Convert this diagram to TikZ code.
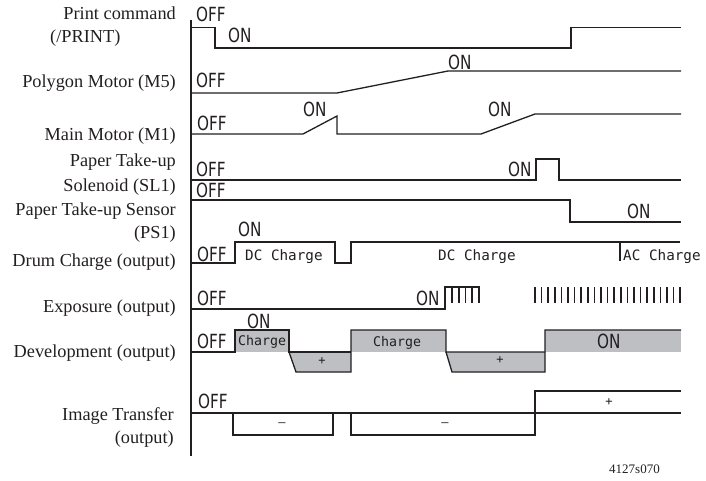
\documentclass[tikz,border=0pt]{standalone}
\usepackage{fontspec}
\setmainfont{Liberation Serif}
\newfontfamily\sigfont[FakeStretch=0.78]{DejaVu Sans}
\newfontfamily\monofont{DejaVu Sans Mono}
\definecolor{ink}{RGB}{35,31,32}
\definecolor{devfill}{RGB}{190,191,194}

\begin{document}
\begin{tikzpicture}[x=1pt,y=-1pt,
  sig/.style={line width=1.3pt,draw=ink,line join=miter},
  lbl/.style={anchor=base east,inner sep=0pt,font=\fontsize{18.3}{20}\selectfont,text=ink},
  st/.style={anchor=base west,inner sep=0pt,font=\sigfont\fontsize{19.5}{20}\selectfont,text=ink},
  mono/.style={anchor=base west,inner sep=0pt,font=\monofont\fontsize{14.3}{16}\selectfont,text=ink},
  pm/.style={inner sep=0pt,font=\monofont\fontsize{12}{14}\selectfont,text=ink}]
  \useasboundingbox (0,0) rectangle (706,481);

  \node[lbl] (lprint) at (176,20) {Print command};
  \node[lbl,anchor=base west] (lprint2) at (50,43) {(/PRINT)};
  \node[lbl] (lpoly) at (176,88) {Polygon Motor (M5)};
  \node[lbl] (lmain) at (176,141) {Main Motor (M1)};
  \node[lbl] (lsol) at (176,167) {Paper Take-up};
  \node[lbl] (lsol2) at (176,191) {Solenoid (SL1)};
  \node[lbl] (lsens) at (176,215) {Paper Take-up Sensor};
  \node[lbl] (lsens2) at (176,238) {(PS1)};
  \node[lbl] (ldrum) at (176,266) {Drum Charge (output)};
  \node[lbl] (lexp) at (176,312) {Exposure (output)};
  \node[lbl] (ldev) at (176,357) {Development (output)};
  \node[lbl] (ltr) at (174,420) {Image Transfer};
  \node[lbl] (ltr2) at (174,443) {(output)};
  \node[lbl,anchor=base west,font=\fontsize{13}{14}\selectfont] (fig) at (609,473) {4127s070};

  \draw[line width=1.6pt,ink] (191,20) -- (191,456);

  \draw[sig] (191,27.5) -- (215,27.5) -- (215,48) -- (571,48) -- (571,27.5) -- (681,27.5);
  \node[st] (printoff) at (196,21.5) {OFF};
  \node[st] (printon) at (228,43) {ON};

  \draw[sig] (191,93) -- (337,93) -- (448,71) -- (681,71);
  \node[st] (polyoff) at (196,88) {OFF};
  \node[st] (polyon) at (448,70) {ON};

  \draw[sig] (191,134) -- (303,134) -- (337,116) -- (337,134) -- (481,134) -- (535,114) -- (681,114);
  \node[st] (mainoff) at (197,130.5) {OFF};
  \node[st] (mainon) at (303,116.5) {ON};
  \node[st] (mainon2) at (488,116.5) {ON};

  \draw[sig] (191,180) -- (536,180) -- (536,159) -- (559,159) -- (559,180) -- (681,180);
  \node[st] (soloff) at (196,176.5) {OFF};
  \node[st] (solon) at (508,176) {ON};

  \draw[sig] (191,200) -- (570,200) -- (570,222) -- (681,222);
  \node[st] (sensoff) at (196,197.5) {OFF};
  \node[st] (senson) at (627,218) {ON};

  \draw[sig] (191,263) -- (235,263) -- (235,242) -- (335,242) -- (335,263) -- (351,263) -- (351,242) -- (680,242);
  \draw[sig] (620,242) -- (620,261);
  \node[st] (drumon) at (238,236.5) {ON};
  \node[st] (drumoff) at (197,261.5) {OFF};
  \node[mono] (dc1) at (245,260) {DC Charge};
  \node[mono] (dc2) at (438,260) {DC Charge};
  \node[mono] (ac) at (623,260) {AC Charge};

  \draw[sig] (191,309) -- (445,309) -- (445,287) -- (480,287);
  \foreach \i in {0,...,4}
    \draw[sig,line width=1.6pt] ({452+6.75*\i},287) -- ({452+6.75*\i},303);
  \foreach \i in {0,...,22}
    \draw[sig,line width=1.6pt] ({535+6.6*\i},287) -- ({535+6.6*\i},303);
  \node[st] (expoff) at (197,305) {OFF};
  \node[st] (expon) at (416,305) {ON};

  \fill[devfill] (235,330) rectangle (289,352);
  \fill[devfill] (289,352) -- (351,352) -- (351,372) -- (296,372) -- cycle;
  \fill[devfill] (351,330) rectangle (446,352);
  \fill[devfill] (446,352) -- (545,352) -- (545,372) -- (452,372) -- cycle;
  \fill[devfill] (545,330) rectangle (681,352);
  \draw[sig] (191,352) -- (235,352) -- (235,330) -- (289,330) -- (289,352) -- (351,352);
  \draw[sig] (289,352) -- (296,372) -- (351,372) -- (351,330) -- (446,330) -- (446,352) -- (545,352);
  \draw[sig] (446,352) -- (452,372) -- (545,372) -- (545,330) -- (681,330);
  \node[st] (devon) at (247,328) {ON};
  \node[st] (devoff) at (197,348) {OFF};
  \node[mono,font=\monofont\fontsize{13.3}{15}\selectfont] (chg1) at (238,345.5) {Charge};
  \node[mono,font=\monofont\fontsize{13.3}{15}\selectfont] (chg2) at (373,346.5) {Charge};
  \node[pm] (plus1) at (322,361) {+};
  \node[pm] (plus2) at (500,360) {+};
  \node[st] (devon2) at (597,348) {ON};

  \draw[sig] (191,413) -- (681,413);
  \draw[sig] (233,413) -- (233,435) -- (333,435) -- (333,413);
  \draw[sig] (351,413) -- (351,435) -- (535,435) -- (535,391) -- (681,391);
  \node[st] (troff) at (198,408) {OFF};
  \node[pm] (minus1) at (282,425) {–};
  \node[pm] (minus2) at (445,425) {–};
  \node[pm] (plus3) at (609,402) {+};
\end{tikzpicture}
\end{document}
